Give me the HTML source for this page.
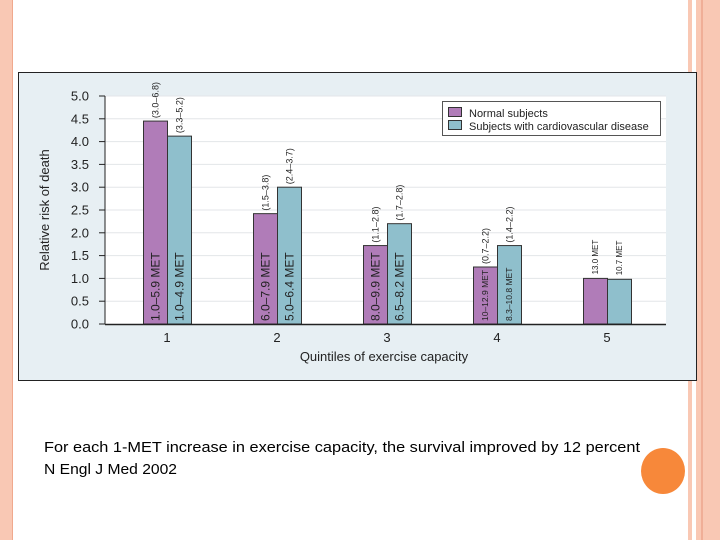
<!DOCTYPE html>
<html><head><meta charset="utf-8"><style>
body{margin:0;background:#fff;width:720px;height:540px;overflow:hidden}
svg{display:block;font-family:"Liberation Sans",sans-serif}
</style></head><body>
<svg width="720" height="540" viewBox="0 0 720 540">
<rect x="0" y="0" width="12" height="540" fill="#f9c8b4"/>
<line x1="12.5" y1="0" x2="12.5" y2="540" stroke="#f0a98e"/>
<rect x="688" y="0" width="4" height="540" fill="#f9c8b4"/>
<rect x="696" y="0" width="24" height="540" fill="#f9c8b4"/>
<line x1="702" y1="0" x2="702" y2="540" stroke="#e8957a"/>
<rect x="18.5" y="72.5" width="678" height="308" fill="#e7eff3" stroke="#222"/>
<rect x="105" y="96" width="561" height="228" fill="#fff"/>
<g id="grid"></g><g id="bars"></g><g id="axes"></g>
<g>
<rect x="442.5" y="101.5" width="218" height="34" fill="#fff" stroke="#555"/>
<rect x="448.5" y="107.5" width="13" height="9" fill="#b07cb8" stroke="#333"/>
<text x="469" y="117" font-size="11" fill="#222">Normal subjects</text>
<rect x="448.5" y="120.5" width="13" height="9" fill="#8fbfcc" stroke="#333"/>
<text x="469" y="130" font-size="11" fill="#222">Subjects with cardiovascular disease</text>
</g>
<text x="384" y="361" font-size="13" text-anchor="middle" fill="#222">Quintiles of exercise capacity</text>
<text transform="translate(49,210) rotate(-90)" font-size="13" text-anchor="middle" fill="#222">Relative risk of death</text>
<text x="44" y="452" font-size="14.5" textLength="596" lengthAdjust="spacingAndGlyphs" fill="#000">For each 1-MET increase in exercise capacity, the survival improved by 12 percent</text>
<text x="44" y="474" font-size="14.5" fill="#000" textLength="133" lengthAdjust="spacingAndGlyphs">N Engl J Med 2002</text>
<ellipse cx="663" cy="471" rx="22" ry="23" fill="#f7883a"/>
</svg>
<script>
const categories=["1","2","3","4","5"];
const normalValues=[4.45,2.42,1.72,1.25,1.0];
const cvdValues=[4.12,3.0,2.2,1.72,0.98];
const normalMET=["1.0–5.9 MET","6.0–7.9 MET","8.0–9.9 MET","10–12.9 MET","13.0 MET"];
const cvdMET=["1.0–4.9 MET","5.0–6.4 MET","6.5–8.2 MET","8.3–10.8 MET","10.7 MET"];
const normalCI=["(3.0–6.8)","(1.5–3.8)","(1.1–2.8)","(0.7–2.2)",""];
const cvdCI=["(3.3–5.2)","(2.4–3.7)","(1.7–2.8)","(1.4–2.2)",""];
const yTicks=[0,0.5,1,1.5,2,2.5,3,3.5,4,4.5,5];
const NS="http://www.w3.org/2000/svg";
const y=v=>324-v*45.6;
const xc=i=>167+i*110;
function mk(tag,attrs,parent,txt){const e=document.createElementNS(NS,tag);for(const k in attrs)e.setAttribute(k,attrs[k]);if(txt!==undefined)e.textContent=txt;parent.appendChild(e);return e;}
const grid=document.getElementById('grid'),bars=document.getElementById('bars'),axes=document.getElementById('axes');
yTicks.forEach(t=>{
  if(t>0){const g=mk('line',{x1:105,x2:666,y1:y(t),y2:y(t),stroke:'#e3e6e8'},grid);
  
  }
  const tk=mk('line',{x1:99,x2:105,y1:y(t),y2:y(t),stroke:'#222'},axes);
  
  
  const lb=mk('text',{x:89,y:y(t)+4.5,'font-size':13,'text-anchor':'end',fill:'#222'},axes,t.toFixed(1));
  
  
});
const ya=mk('line',{x1:105,x2:105,y1:96,y2:324.5,stroke:'#222'},axes);


const xa=mk('line',{x1:105,x2:666,y1:324.5,y2:324.5,stroke:'#222','stroke-width':1.5},axes);


function vtext(x,yb,txt,size,name,anchor){
  const t=mk('text',{transform:`translate(${x},${yb}) rotate(-90)`,'font-size':size,fill:'#222','text-anchor':anchor||'start'},bars,txt);
  
  
}
categories.forEach((c,i)=>{
  const cx=xc(i);
  [[normalValues,'#b07cb8',-24,normalMET,normalCI,'normal'],[cvdValues,'#8fbfcc',0,cvdMET,cvdCI,'cvd']].forEach(([vals,col,off,met,ci,nm])=>{
    const v=vals[i];
    const r=mk('rect',{x:cx+off+0.5,y:y(v),width:24,height:324-y(v),fill:col,stroke:'#333','stroke-width':1},bars);
    
    
    const small=i>=3;
    const fs=small?(i===4?8:8.5):12;
    const bx=cx+off+12+fs*0.38;
    if(i<4){
      vtext(bx,321,met[i],fs,'met-label',"start");
      vtext(cx+off+12+3.5,y(v)-3,ci[i],9,'ci-label',"start");
    } else {
      vtext(bx,y(v)-4,met[i],fs,'met-label',"start");
    }
  });
  const xl=mk('text',{x:cx,y:342,'font-size':13,'text-anchor':'middle',fill:'#222'},axes,c);
  
  
});
</script>
</body></html>
